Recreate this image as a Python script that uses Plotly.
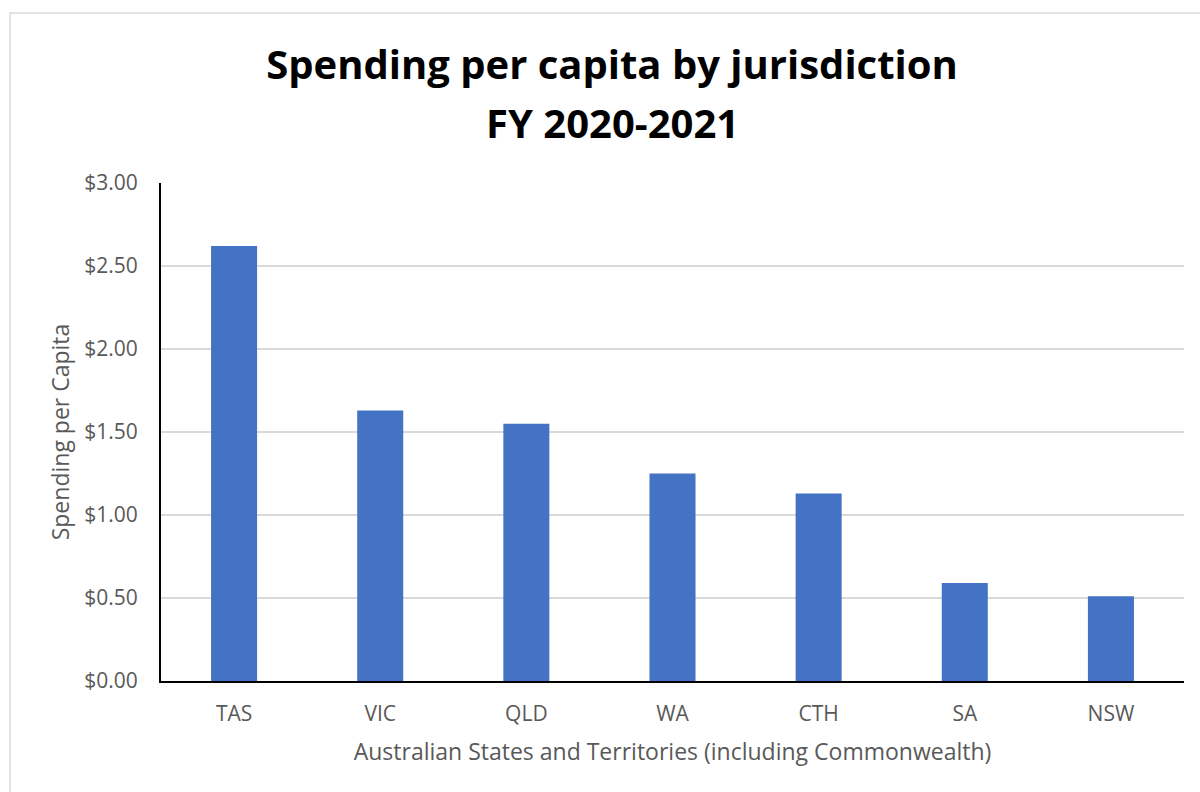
import plotly.graph_objects as go

categories = ["TAS", "VIC", "QLD", "WA", "CTH", "SA", "NSW"]
spending = [2.62, 1.63, 1.55, 1.25, 1.13, 0.59, 0.51]
y_ticks = [0, 0.5, 1.0, 1.5, 2.0, 2.5, 3.0]
y_tick_labels = ["$0.00", "$0.50", "$1.00", "$1.50", "$2.00", "$2.50", "$3.00"]

FONT = "Open Sans"
fig = go.Figure(go.Bar(x=categories, y=spending, marker_color="#4472C4",
                       marker_line_width=0, width=0.315))

fig.update_layout(
    width=1200, height=792,
    paper_bgcolor="white", plot_bgcolor="white",
    margin=dict(l=161, r=16, t=183, b=111),
    showlegend=False,
    title=dict(text="<b>Spending per capita by jurisdiction</b>",
               x=612/1200, xanchor="center", xref="container",
               y=1 - 65/792, yanchor="middle", yref="container",
               font=dict(family=FONT, size=40, color="black")),
    font=dict(family=FONT, color="#595959"),
)
fig.add_annotation(text="<b>FY 2020-2021</b>", xref="paper", yref="paper",
                   x=(612 - 161)/1023, y=(681 - 122)/498,
                   xanchor="center", yanchor="middle", showarrow=False,
                   font=dict(family=FONT, size=40, color="black"))

fig.update_xaxes(showline=True, linecolor="black", linewidth=2, showgrid=False,
                 tickfont=dict(size=21, color="#595959"), ticks="",
                 ticklabelstandoff=13,
                 title=dict(text="Australian States and Territories (including Commonwealth)",
                            font=dict(size=23, color="#595959"), standoff=18))
fig.update_yaxes(range=[0, 3.0], tickvals=y_ticks, ticktext=y_tick_labels,
                 showline=True, linecolor="black", linewidth=2,
                 showgrid=True, gridcolor="#D9D9D9", gridwidth=1.5,
                 tickfont=dict(size=21, color="#595959"), ticks="",
                 ticklabelstandoff=17,
                 zeroline=False,
                 title=dict(text="Spending per Capita", font=dict(size=23, color="#595959"),
                            standoff=8))

fig.add_shape(type="rect", xref="paper", yref="paper",
              x0=-151/1023, x1=1.05, y0=-0.5, y1=1 + 170/498,
              line=dict(color="#D9D9D9", width=1.5), fillcolor="rgba(0,0,0,0)", layer="below")

fig.write_html("out.html")
